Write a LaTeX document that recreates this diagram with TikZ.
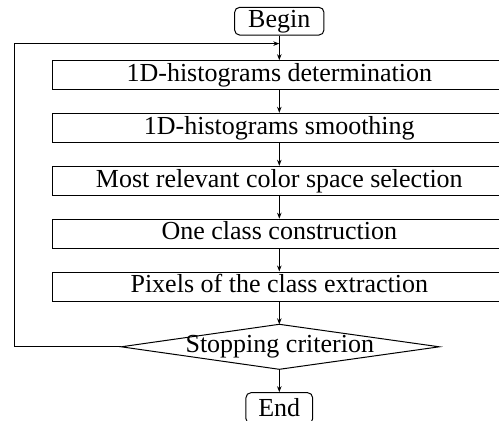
\documentclass[tikz,border=0pt]{standalone}
\usepackage{fontspec}
\setmainfont{Liberation Serif}
\usetikzlibrary{arrows.meta}
\begin{document}
\begin{tikzpicture}[x=1pt,y=-1pt, line width=1pt,
  every node/.style={font=\fontsize{26}{30}\selectfont, inner sep=0pt},
  stepbox/.style={draw, minimum width=453.6pt, minimum height=29pt, text height=18.2pt, text depth=5.7pt},
  termbox/.style={draw, rounded corners=5pt, minimum height=27.7pt, text height=18.2pt, text depth=5.7pt, inner xsep=13pt},
  arr/.style={-{Stealth[length=6pt,width=4.5pt]}}]
\path[use as bounding box, clip] (0,0) rectangle (499,421);
\node[termbox, inner xsep=13.6pt] (begin) at (279.3,21.2) {Begin};
\node[stepbox] (s1) at (279.3,75.2) {1D-histograms determination};
\node[stepbox] (s2) at (279.3,127.8) {1D-histograms smoothing};
\node[stepbox] (s3) at (279.3,180.8) {Most relevant color space selection};
\node[stepbox] (s4) at (279.3,233.7) {One class construction};
\node[stepbox] (s5) at (279.3,286.5) {Pixels of the class extraction};
\node (stop) at (279.8,346.8) {Stopping criterion};
\coordinate (dT) at (279.3,324.3);
\coordinate (dR) at (439.3,346.8);
\coordinate (dB) at (279.3,369.3);
\coordinate (dL) at (121.2,346.8);
\draw (dT) -- (dR) -- (dB) -- (dL) -- cycle;
\node[termbox, inner xsep=12.4pt, text height=22pt, minimum height=31pt] (end) at (279.3,408.2) {End};
\coordinate (loopTop) at (14.7,43.6);
\coordinate (join) at (279.3,43.6);
\draw[arr] (begin) -- (s1);
\draw[arr] (s1) -- (s2);
\draw[arr] (s2) -- (s3);
\draw[arr] (s3) -- (s4);
\draw[arr] (s4) -- (s5);
\draw[arr] (s5) -- (dT);
\draw[arr] (dB) -- (end);
\draw[arr] (dL) -- (dL -| loopTop) -- (loopTop) -- (join);
\end{tikzpicture}
\end{document}
